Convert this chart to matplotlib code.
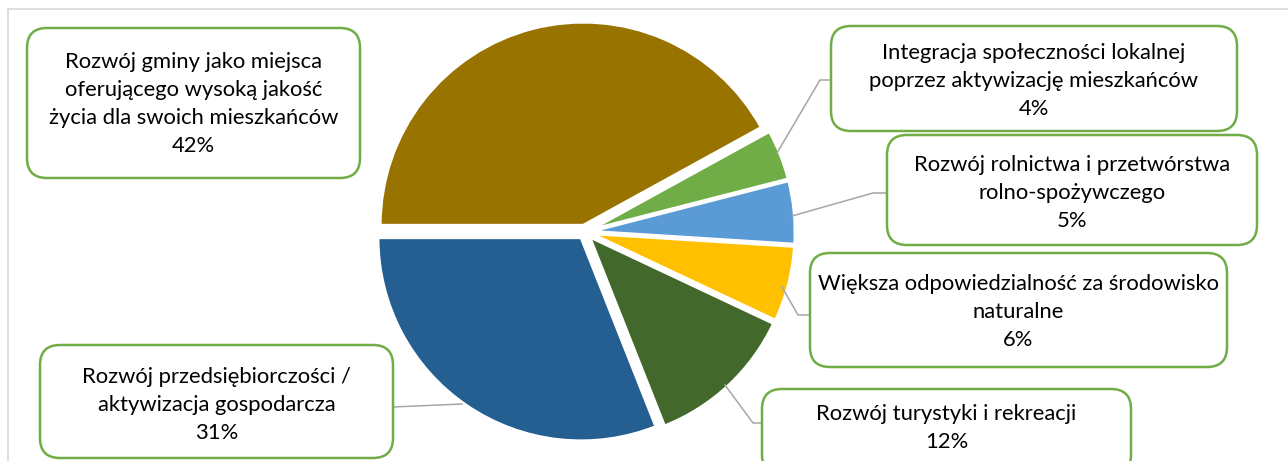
import matplotlib
matplotlib.use("Agg")
import matplotlib.pyplot as plt
from matplotlib.patches import FancyBboxPatch

W, H = 1288, 461
BOX_EDGE = "#70AD47"
LEADER = "#A6A6A6"
FRAME = "#D9D9D9"

labels = [
    "Rozwój gminy jako miejsca\noferującego wysoką jakość\nżycia dla swoich mieszkańców",
    "Rozwój przedsiębiorczości /\naktywizacja gospodarcza",
    "Rozwój turystyki i rekreacji",
    "Większa odpowiedzialność za środowisko\nnaturalne",
    "Rozwój rolnictwa i przetwórstwa\nrolno-spożywczego",
    "Integracja społeczności lokalnej\npoprzez aktywizację mieszkańców",
]
values = [42, 31, 12, 6, 5, 4]
colors = ["#997300", "#255E91", "#43682B", "#FFC000", "#5B9BD5", "#70AD47"]

# label boxes in pixel coords: x0, y0 (top), x1, y1 (bottom), text centre y
boxes = [
    (27, 28, 360, 178, 104),
    (40, 345, 393, 458, 405),
    (762, 389, 1131, 475, 428),
    (810, 253, 1227, 367, 312),
    (887, 135, 1257, 245, 193),
    (831, 26, 1237, 131, 81),
]
leaders = [
    None,
    [(462, 404), (393, 407)],
    [(725, 385), (753, 423), (762, 423)],
    [(782, 287), (798, 315), (810, 315)],
    [(792, 216), (873, 193), (887, 193)],
    [(777, 153), (820, 80), (831, 80)],
]

plt.rcParams["font.family"] = ["Lato", "DejaVu Sans"]

fig = plt.figure(figsize=(W / 100, H / 100), dpi=100)
ax = fig.add_axes([0, 0, 1, 1])

# explode is in data units here (pixels)
ax.pie(values, colors=colors, startangle=-28.8, counterclock=False,
       center=(585, 232), radius=203, explode=[7] * len(values),
       wedgeprops=dict(edgecolor="white", linewidth=2))

# frame (top and left only are visible)
ax.plot([8.5, W], [9.5, 9.5], color=FRAME, lw=1.2, zorder=0)
ax.plot([8.5, 8.5], [9.5, H], color=FRAME, lw=1.2, zorder=0)

for i, (lab, v) in enumerate(zip(labels, values)):
    x0, y0, x1, y1, ty = boxes[i]
    ax.add_patch(FancyBboxPatch((x0, y0), x1 - x0, y1 - y0,
                                boxstyle="round,pad=0,rounding_size=20",
                                fc="white", ec=BOX_EDGE, lw=1.8, zorder=3))
    ax.text((x0 + x1) / 2, ty, f"{lab}\n{v}%", ha="center", va="center",
            fontsize=15.8, linespacing=1.5, color="black", zorder=4)
    if leaders[i]:
        xs, ys = zip(*leaders[i])
        ax.plot(xs, ys, color=LEADER, lw=1.1, zorder=2)

ax.set_xlim(0, W)
ax.set_ylim(H, 0)
ax.set_aspect("auto")
ax.axis("off")

fig.savefig("out.png", dpi=100)
